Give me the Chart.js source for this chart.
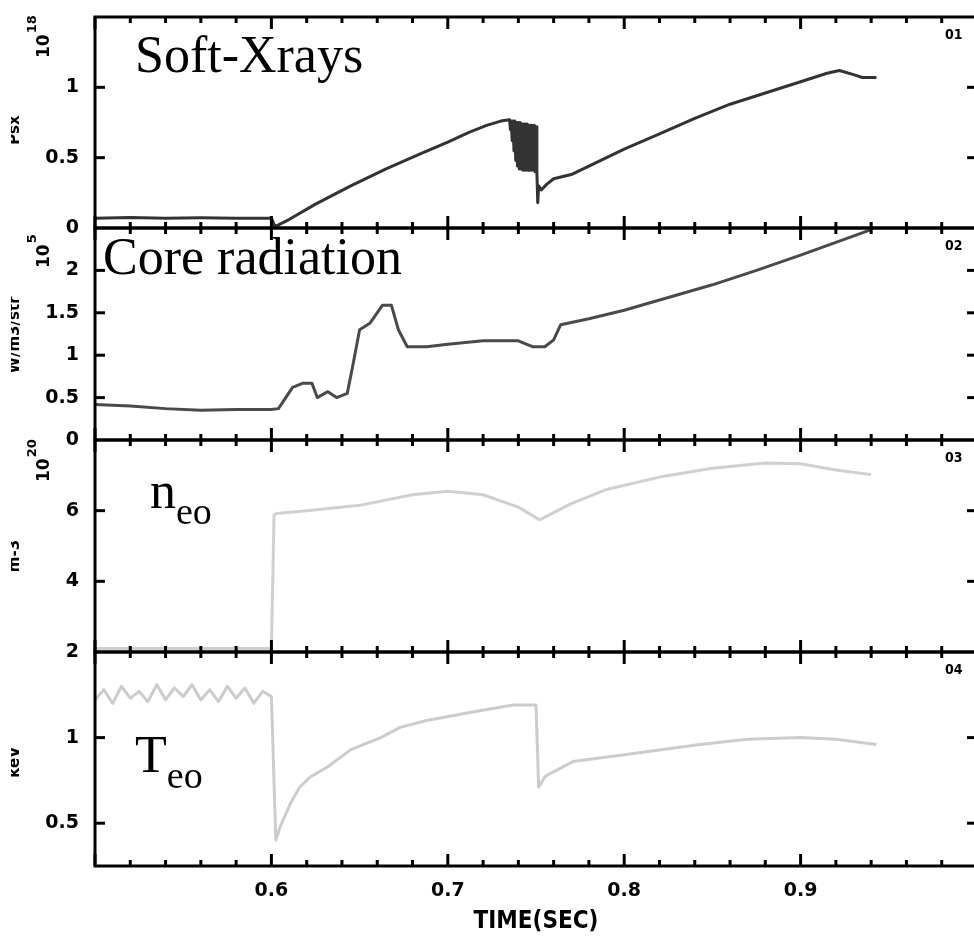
<!DOCTYPE html>
<html>
<head>
<meta charset="utf-8">
<script src="https://cdn.jsdelivr.net/npm/chart.js@4.4.1/dist/chart.umd.min.js"></script>
<style>
html, body { margin: 0; padding: 0; background: #fff; overflow: hidden; }
#wrap { position: relative; width: 974px; height: 948px; overflow: hidden; background: #fff; }
#wrap canvas { position: absolute; left: 0; }
</style>
</head>
<body>
<div id="wrap"></div>
<script>
const timeMin = 0.5
const timeMax = 1.0
const timeTicks = [0.6, 0.7, 0.8, 0.9]

// Soft-Xrays
const sxrTime = [0.500, 0.520, 0.540, 0.560, 0.580, 0.600, 0.602, 0.610, 0.625, 0.645, 0.665, 0.685, 0.700, 0.712, 0.722, 0.730,
    0.7350, 0.7355, 0.7360, 0.7365, 0.7370, 0.7375, 0.7380, 0.7385, 0.7390, 0.7395, 0.7400, 0.7405, 0.7410, 0.7415,
    0.7420, 0.7425, 0.7430, 0.7435, 0.7440, 0.7445, 0.7450, 0.7455, 0.7460, 0.7465, 0.7470, 0.7475, 0.7480, 0.7485,
    0.7490, 0.7495, 0.7500, 0.7505, 0.7510, 0.7515, 0.7530, 0.7560, 0.760, 0.770, 0.785, 0.800, 0.820, 0.840, 0.860,
    0.880, 0.900, 0.915, 0.922, 0.930, 0.935, 0.943]
const sxrValue = [0.07, 0.075, 0.07, 0.072, 0.07, 0.07, 0.01, 0.06, 0.17, 0.30, 0.42, 0.53, 0.61, 0.68, 0.73, 0.76,
    0.77, 0.70, 0.76, 0.62, 0.76, 0.55, 0.76, 0.48, 0.75, 0.44, 0.75, 0.42, 0.75, 0.42,
    0.74, 0.41, 0.74, 0.41, 0.74, 0.41, 0.74, 0.41, 0.73, 0.41, 0.73, 0.41, 0.73, 0.41,
    0.73, 0.40, 0.72, 0.40, 0.18, 0.30, 0.27, 0.31, 0.35, 0.38, 0.47, 0.56, 0.67, 0.78, 0.88,
    0.96, 1.04, 1.10, 1.12, 1.09, 1.07, 1.07]

// Core radiation
const radTime = [0.500, 0.520, 0.540, 0.560, 0.580, 0.600, 0.604, 0.612, 0.618, 0.623, 0.626, 0.632, 0.637, 0.643, 0.646,
    0.650, 0.656, 0.663, 0.668, 0.672, 0.677, 0.688, 0.700, 0.720, 0.740, 0.748, 0.755, 0.760, 0.764, 0.780, 0.800,
    0.825, 0.850, 0.875, 0.900, 0.920, 0.940]
const radValue = [0.42, 0.40, 0.37, 0.35, 0.36, 0.36, 0.37, 0.62, 0.67, 0.67, 0.50, 0.57, 0.50, 0.55, 0.86,
    1.30, 1.38, 1.59, 1.59, 1.30, 1.10, 1.10, 1.13, 1.17, 1.17, 1.10, 1.10, 1.18, 1.36, 1.43, 1.53,
    1.68, 1.83, 2.00, 2.18, 2.33, 2.48]

// n_eo
const neTime = [0.500, 0.600, 0.6015, 0.603, 0.620, 0.650, 0.680, 0.700, 0.720, 0.740, 0.752, 0.770, 0.790, 0.820,
    0.850, 0.880, 0.900, 0.920, 0.940]
const neValue = [2.10, 2.10, 5.88, 5.92, 6.00, 6.15, 6.45, 6.55, 6.45, 6.10, 5.74, 6.20, 6.60, 6.95,
    7.20, 7.35, 7.33, 7.15, 7.02]

// T_eo
const teTime = [0.500, 0.505, 0.510, 0.515, 0.520, 0.525, 0.530, 0.535, 0.540, 0.545, 0.550, 0.555, 0.560, 0.565,
    0.570, 0.575, 0.580, 0.585, 0.590, 0.595, 0.600, 0.6025, 0.605, 0.611, 0.616, 0.622, 0.632, 0.645, 0.662,
    0.673, 0.688, 0.714, 0.737, 0.750, 0.7515, 0.755, 0.758, 0.771, 0.800, 0.843, 0.870, 0.900, 0.920, 0.943]
const teValue = [1.22, 1.28, 1.20, 1.30, 1.23, 1.27, 1.21, 1.31, 1.22, 1.29, 1.24, 1.31, 1.22, 1.28,
    1.21, 1.30, 1.23, 1.29, 1.20, 1.27, 1.24, 0.40, 0.48, 0.62, 0.71, 0.77, 0.83, 0.93, 1.00,
    1.06, 1.10, 1.15, 1.19, 1.19, 0.71, 0.77, 0.79, 0.86, 0.90, 0.96, 0.99, 1.00, 0.99, 0.96]

const panels = [
    { time: sxrTime, value: sxrValue, color: '#333333', yMin: 0, yMax: 1.5, yStep: 0.5, tag: '01',
      top: 17, bottom: 228, exp: ['10', '18'], expAt: 58, unit: 'Psx', unitAt: 130,
      note: { text: 'Soft-Xrays', sub: '', x: 135, base: 72 } },
    { time: radTime, value: radValue, color: '#4a4a4a', yMin: 0, yMax: 2.5, yStep: 0.5, tag: '02',
      top: 228, bottom: 440, exp: ['10', '5'], expAt: 268, unit: 'W/m3/str', unitAt: 335,
      note: { text: 'Core radiation', sub: '', x: 103, base: 274 } },
    { time: neTime, value: neValue, color: '#d0d0d0', yMin: 2, yMax: 8, yStep: 2, tag: '03',
      top: 440, bottom: 652, exp: ['10', '20'], expAt: 482, unit: 'm-3', unitAt: 556,
      note: { text: 'n', sub: 'eo', x: 150, base: 508 } },
    { time: teTime, value: teValue, color: '#cccccc', yMin: 0.25, yMax: 1.5, yStep: 0.5, tag: '04',
      top: 652, bottom: 866, exp: null, unit: 'keV', unitAt: 762,
      note: { text: 'T', sub: 'eo', x: 135, base: 772 } }
]

const tickFont = { family: 'DejaVu Sans', weight: 'bold', size: 19 }
const pad = 12

const panelPlugin = {
    id: 'panel',
    afterDraw(chart, args, opts) {
        const { ctx, chartArea: a, scales: { x, y } } = chart
        const p = opts.panel
        const off = p.top - pad
        ctx.save()
        ctx.strokeStyle = '#000'
        ctx.lineWidth = 3
        ctx.lineCap = 'butt'
        ctx.strokeRect(a.left, a.top, a.right - a.left, a.bottom - a.top)
        const seg = (x1, y1, x2, y2) => { ctx.beginPath(); ctx.moveTo(x1, y1); ctx.lineTo(x2, y2); ctx.stroke() }
        for (let k = 0; k <= 25; k++) {
            const px = x.getPixelForValue(timeMin + k * 0.02)
            const len = k % 5 === 0 ? 12 : 6
            seg(px, a.top, px, a.top + len)
            seg(px, a.bottom, px, a.bottom - len)
        }
        y.ticks.forEach(t => {
            if (t.value <= y.min + 1e-9 || t.value >= y.max - 1e-9) return
            const py = y.getPixelForValue(t.value)
            seg(a.left, py, a.left + 10, py)
            seg(a.right, py, a.right - 10, py)
        })
        // panel tag
        ctx.fillStyle = '#000'
        ctx.font = 'bold 14px "DejaVu Sans Condensed", "DejaVu Sans"'
        ctx.textBaseline = 'alphabetic'
        ctx.textAlign = 'left'
        ctx.fillText(p.tag, 945, a.top + 22)
        // exponent
        if (p.exp) {
            ctx.save()
            ctx.translate(49, p.expAt - off)
            ctx.rotate(-Math.PI / 2)
            ctx.font = 'bold 17px "DejaVu Sans"'
            ctx.fillText(p.exp[0], 0, 0)
            const w = ctx.measureText(p.exp[0]).width
            ctx.font = 'bold 13px "DejaVu Sans"'
            ctx.fillText(p.exp[1], w + 1, -13)
            ctx.restore()
        }
        // clipped axis title
        ctx.save()
        ctx.beginPath()
        ctx.rect(11, 0, 9, chart.height)
        ctx.clip()
        ctx.translate(19, p.unitAt - off)
        ctx.rotate(-Math.PI / 2)
        ctx.font = 'bold 15px "DejaVu Sans"'
        ctx.textAlign = 'center'
        ctx.fillText(p.unit, 0, 0)
        ctx.restore()
        // big annotation
        const n = p.note
        ctx.font = '52px "Liberation Serif", "Times New Roman", serif'
        ctx.fillText(n.text, n.x, n.base - off)
        if (n.sub) {
            const w = ctx.measureText(n.text).width
            ctx.font = '38px "Liberation Serif", "Times New Roman", serif'
            ctx.fillText(n.sub, n.x + w, n.base - off + 16)
        }
        ctx.restore()
    }
}

const wrap = document.getElementById('wrap')
panels.forEach((p, i) => {
    const last = i === panels.length - 1
    const h = p.bottom - p.top
    const canvas = document.createElement('canvas')
    canvas.width = 980
    canvas.height = h + pad + (last ? 82 : pad)
    canvas.style.top = (p.top - pad) + 'px'
    wrap.appendChild(canvas)
    new Chart(canvas, {
        type: 'line',
        data: {
            datasets: [{
                data: p.time.map((t, k) => ({ x: t, y: p.value[k] })),
                borderColor: p.color,
                borderWidth: 3,
                pointRadius: 0,
                tension: 0,
                borderJoinStyle: 'round'
            }]
        },
        options: {
            responsive: false,
            animation: false,
            events: [],
            layout: { padding: { top: pad, bottom: last ? 12 : pad, left: 0, right: 3 } },
            plugins: { legend: { display: false }, tooltip: { enabled: false }, panel: { panel: p } },
            scales: {
                x: {
                    type: 'linear', min: timeMin, max: timeMax,
                    display: last,
                    afterBuildTicks: s => { s.ticks = timeTicks.map(v => ({ value: v })) },
                    afterFit: s => {
                        if (last) s.height = 70
                        s.paddingLeft = 0
                        s.paddingRight = 0
                    },
                    grid: { display: false, drawTicks: false },
                    border: { display: false },
                    ticks: { font: tickFont, color: '#000', padding: 14, maxRotation: 0,
                        callback: v => v.toFixed(1) },
                    title: { display: true, text: 'TIME(SEC)', color: '#000',
                        font: { family: 'DejaVu Sans Condensed', weight: 'bold', size: 24 }, padding: { top: 8, bottom: 0 } }
                },
                y: {
                    min: p.yMin, max: p.yMax,
                    afterFit: s => {
                        s.width = 95
                        s.paddingTop = 0
                        s.paddingBottom = 0
                    },
                    grid: { display: false, drawTicks: false },
                    border: { display: false },
                    ticks: {
                        stepSize: p.yStep, autoSkip: false, font: tickFont, color: '#000', padding: 16,
                        callback: v => (v >= p.yMax - 1e-9 || Math.abs(v / p.yStep - Math.round(v / p.yStep)) > 1e-6) ? '' : String(v)
                    }
                }
            }
        },
        plugins: [panelPlugin]
    })
})
</script>
</body>
</html>
